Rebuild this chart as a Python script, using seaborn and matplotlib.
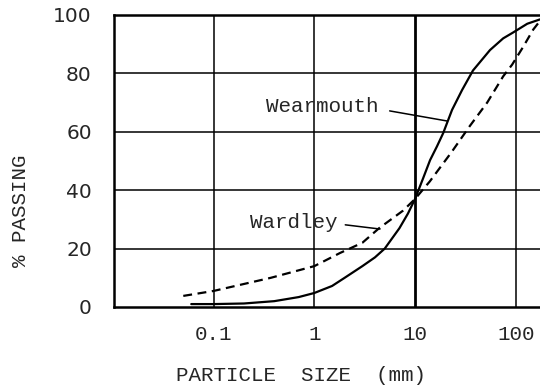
import numpy as np
import pandas as pd
import matplotlib
matplotlib.use('Agg')
import matplotlib.pyplot as plt
import seaborn as sns

# grading curves (size in mm, % passing)
wear_size = [0.06, 0.1, 0.2, 0.4, 0.7, 1, 1.5, 2, 3, 4, 5, 7, 8.5, 10, 12, 14.1, 16.5,
             19, 23.3, 29.3, 37.6, 55.5, 75, 94, 130, 174]
wear_pass = [1.0, 1.0, 1.2, 2.0, 3.4, 4.8, 7.2, 10, 14, 17, 20, 27, 32, 37, 44, 50.3, 55,
             59.5, 67.5, 74.3, 81, 88, 92, 94, 97, 98.5]
ward_size = [0.05, 0.1, 0.37, 1, 1.8, 3, 4.4, 7.6, 10, 14, 23, 35, 52, 75, 92, 118, 149, 174]
ward_pass = [3.8, 5.5, 10, 14, 18.5, 22, 27, 33, 37, 43, 53, 62, 70, 79, 83, 89, 95, 98]

x_ticks = [0.1, 1, 10, 100]
x_labels = ['0.1', '1', '10', '100']
y_ticks = [0, 20, 40, 60, 80, 100]

wear = pd.DataFrame({'size': wear_size, 'passing': wear_pass})
ward = pd.DataFrame({'size': ward_size, 'passing': ward_pass})

sns.set_style('white')
plt.rcParams['font.family'] = ['Liberation Mono', 'DejaVu Sans']

fig = plt.figure(figsize=(5.4, 3.87), dpi=100)
ax = fig.add_axes([114 / 540, 1 - 307 / 387, 1 - 114 / 540, 292 / 387])
ax.set_xscale('log')

sns.lineplot(data=wear, x='size', y='passing', ax=ax, color='black', lw=1.6, sort=False)
sns.lineplot(data=ward, x='size', y='passing', ax=ax, color='black', lw=1.6,
             linestyle=(0, (4, 2.5)), sort=False)

ax.set_xlim(0.01026, 174)
ax.set_ylim(0, 100)

# grid
for yv in [20, 40, 60, 80]:
    ax.axhline(yv, color='black', lw=1.1, zorder=0)
for xv in [0.1, 1, 100]:
    ax.axvline(xv, color='black', lw=1.1, zorder=0)
ax.axvline(10, color='black', lw=2.0, zorder=0)

for side in ['left', 'bottom', 'top']:
    ax.spines[side].set_linewidth(1.8)
    ax.spines[side].set_color('black')
ax.spines['right'].set_visible(False)

ax.set_xticks(x_ticks)
ax.set_xticklabels(x_labels)
ax.minorticks_off()
ax.set_yticks(y_ticks)
ax.tick_params(axis='both', length=0)
ax.tick_params(axis='x', labelsize=15, pad=13)
ax.tick_params(axis='y', labelsize=15, pad=16)
for lab in ax.get_yticklabels():
    lab.set_family('DejaVu Sans')
    lab.set_fontsize(14.5)

ax.set_xlabel('PARTICLE  SIZE  (mm)', fontsize=15, va='center')
ax.xaxis.set_label_coords(0.44, -0.233)
ax.set_ylabel('% PASSING', fontsize=15)
ax.yaxis.set_label_coords(-0.197, 0.33)

ax.annotate('Wearmouth', xy=(20.8, 63.7), xytext=(1.19, 68.5),
            ha='center', va='center', fontsize=15,
            arrowprops=dict(arrowstyle='-', color='black', lw=1.1,
                            relpos=(1, 0.4), shrinkA=6, shrinkB=0))
ax.annotate('Wardley', xy=(4.49, 26.7), xytext=(0.63, 29.1),
            ha='center', va='center', fontsize=15,
            arrowprops=dict(arrowstyle='-', color='black', lw=1.1,
                            relpos=(1, 0.4), shrinkA=3, shrinkB=0))

fig.savefig('out.png', dpi=100)
